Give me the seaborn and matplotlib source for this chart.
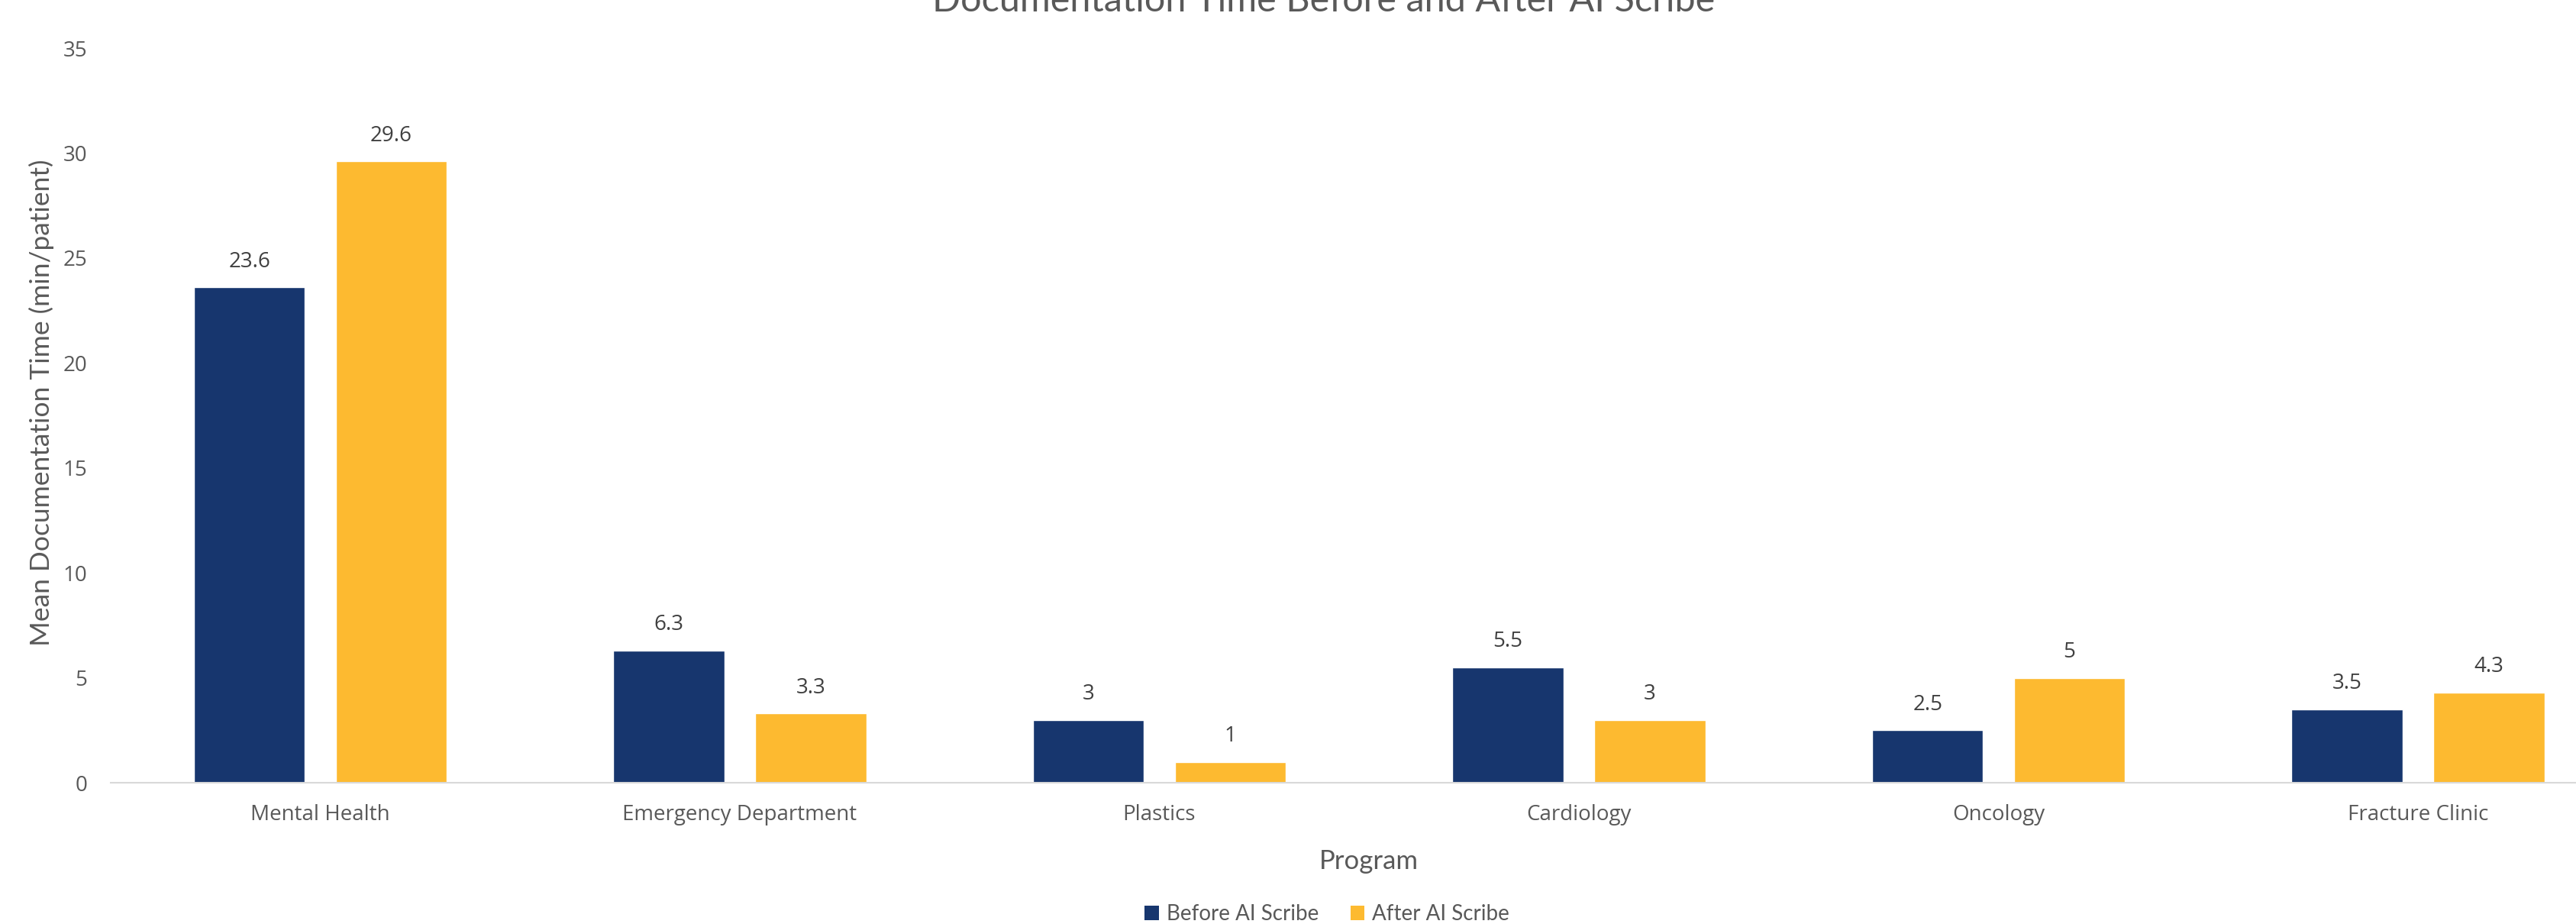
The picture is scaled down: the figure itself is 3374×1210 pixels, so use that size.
import matplotlib
matplotlib.use("Agg")
import matplotlib.pyplot as plt
from matplotlib.patches import Patch
import pandas as pd
import seaborn as sns

programs = ["Mental Health", "Emergency Department", "Plastics",
            "Cardiology", "Oncology", "Fracture Clinic"]
before_scribe = [23.6, 6.3, 3, 5.5, 2.5, 3.5]
after_scribe = [29.6, 3.3, 1, 3, 5, 4.3]
periods = ["Before AI Scribe", "After AI Scribe"]
y_ticks = [0, 5, 10, 15, 20, 25, 30, 35]

NAVY = "#17366E"
GOLD = "#FDBA30"
GREY_TEXT = "#595959"
DARK_TEXT = "#404040"

df = pd.DataFrame({
    "Program": programs * 2,
    "Period": [periods[0]] * len(programs) + [periods[1]] * len(programs),
    "Time": before_scribe + after_scribe,
})

sns.set_theme(style="white")
plt.rcParams["font.family"] = ["Open Sans", "DejaVu Sans"]

W, H = 3374, 1210
fig = plt.figure(figsize=(W / 100, H / 100), dpi=100)
ax = fig.add_axes([144.75 / W, 185 / H, 3297 / W, 962 / H])

sns.barplot(data=df, x="Program", y="Time", hue="Period",
            hue_order=periods, palette=[NAVY, GOLD],
            width=0.676, gap=0.216, saturation=1, ax=ax, legend=False)

for container in ax.containers:
    ax.bar_label(container, fmt="{:g}", padding=14, fontsize=20,
                 color=DARK_TEXT, family=["Open Sans", "DejaVu Sans"])

ax.set_xlim(-0.5, len(programs) - 0.5)
ax.set_ylim(0, 35)
ax.set_yticks(y_ticks)
ax.set_xlabel("")
ax.set_ylabel("")
ax.tick_params(axis="both", length=0, labelsize=20, labelcolor=GREY_TEXT)
ax.tick_params(axis="y", pad=22)
ax.tick_params(axis="x", pad=20)
for side in ["top", "right", "left"]:
    ax.spines[side].set_visible(False)
ax.spines["bottom"].set_color("#D9D9D9")
ax.spines["bottom"].set_linewidth(1.5)
ax.grid(False)

fig.text(1734 / W, 1 - 15 / H, "Documentation Time Before and After AI Scribe",
         ha="center", va="baseline", fontsize=35, color=GREY_TEXT,
         family=["Lato", "DejaVu Sans"])
fig.text(54 / W, 1 - 527 / H, "Mean Documentation Time (min/patient)",
         ha="center", va="center", rotation=90, fontsize=25.5,
         color=GREY_TEXT, family=["Lato", "DejaVu Sans"])
fig.text(1793 / W, 1 - 1128 / H, "Program", ha="center", va="center",
         fontsize=25, color=GREY_TEXT, family=["Lato", "DejaVu Sans"])

handles = [Patch(facecolor=NAVY, edgecolor="none", label=periods[0]),
           Patch(facecolor=GOLD, edgecolor="none", label=periods[1])]
leg = fig.legend(handles=handles, loc="center", ncol=2,
                 bbox_to_anchor=(1738 / W, 1 - 1197 / H), frameon=False,
                 prop={"family": ["Lato", "DejaVu Sans"], "size": 20},
                 handlelength=0.65, handleheight=0.65, handletextpad=0.36,
                 columnspacing=1.5, borderpad=0, borderaxespad=0)
for t in leg.get_texts():
    t.set_color(GREY_TEXT)

fig.savefig("out.png", dpi=100)
